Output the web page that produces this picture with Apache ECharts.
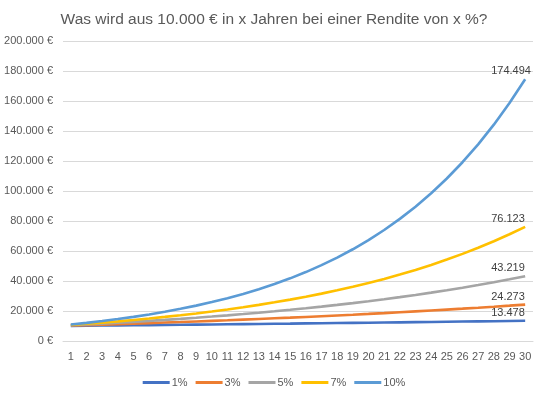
<!DOCTYPE html>
<html>
<head>
<meta charset="utf-8">
<script src="https://cdn.jsdelivr.net/npm/echarts@6/dist/echarts.min.js"></script>
<style>
  html, body { margin: 0; padding: 0; background: #fff; }
  #main { width: 548px; height: 397px; }
</style>
</head>
<body>
<div id="main"></div>
<script>
// Jahre
var years = [];
for (var i = 1; i <= 30; i++) years.push(String(i));

// Werte je Rendite (Endkapital nach n Jahren)
var r1 = [10100, 10201, 10303, 10406, 10510, 10615, 10721, 10829, 10937, 11046,
          11157, 11268, 11381, 11495, 11610, 11726, 11843, 11961, 12081, 12202,
          12324, 12447, 12572, 12697, 12824, 12953, 13082, 13213, 13345, 13478];
var r3 = [10300, 10609, 10927, 11255, 11593, 11941, 12299, 12668, 13048, 13439,
          13842, 14258, 14685, 15126, 15580, 16047, 16528, 17024, 17535, 18061,
          18603, 19161, 19736, 20328, 20938, 21566, 22213, 22879, 23566, 24273];
var r5 = [10500, 11025, 11576, 12155, 12763, 13401, 14071, 14775, 15513, 16289,
          17103, 17959, 18856, 19799, 20789, 21829, 22920, 24066, 25270, 26533,
          27860, 29253, 30715, 32251, 33864, 35557, 37335, 39201, 41161, 43219];
var r7 = [10700, 11449, 12250, 13108, 14026, 15007, 16058, 17182, 18385, 19672,
          21049, 22522, 24098, 25785, 27590, 29522, 31588, 33799, 36165, 38697,
          41406, 44304, 47405, 50724, 54274, 58074, 62139, 66488, 71143, 76123];
var r10 = [11000, 12100, 13310, 14641, 16105, 17716, 19487, 21436, 23579, 25937,
           28531, 31384, 34523, 37975, 41772, 45950, 50545, 55599, 61159, 67275,
           74002, 81403, 89543, 98497, 108347, 119182, 131100, 144210, 158631, 174494];

var names = ['1%', '3%', '5%', '7%', '10%'];
var colors = ['#4472C4', '#ED7D31', '#A5A5A5', '#FFC000', '#5B9BD5'];
var allData = [r1, r3, r5, r7, r10];

function fmt(v) {
    return String(Math.round(v)).replace(/\B(?=(\d{3})+(?!\d))/g, '.');
}

var font = 'Liberation Sans, Arial, sans-serif';

var series = allData.map(function (d, k) {
    return {
        name: names[k],
        type: 'line',
        data: d,
        symbol: 'none',
        showSymbol: false,
        lineStyle: { width: 2.6, color: colors[k] },
        itemStyle: { color: colors[k] },
        endLabel: {
            show: true,
            formatter: function (p) { return fmt(p.value); },
            color: '#404040',
            fontSize: 11,
            fontFamily: font,
            offset: [-42, -8]
        },
        z: k + 2
    };
});

var myChart = echarts.init(document.getElementById('main'));
var option = {
    animation: false,
    title: {
        text: 'Was wird aus 10.000 € in x Jahren bei einer Rendite von x %?',
        left: 'center',
        top: 7,
        textStyle: { color: '#595959', fontSize: 15.5, fontWeight: 'normal', fontFamily: font }
    },
    legend: {
        data: names,
        bottom: 4,
        left: 'center',
        icon: 'rect',
        itemWidth: 27,
        itemHeight: 3,
        itemGap: 8,
        textStyle: { color: '#595959', fontSize: 11, fontFamily: font, padding: [0, 0, 0, -3] }
    },
    grid: { left: 63, right: 15, top: 41, bottom: 56, containLabel: false },
    xAxis: {
        type: 'category',
        data: years,
        boundaryGap: true,
        axisLine: { lineStyle: { color: '#d9d9d9' } },
        axisTick: { show: false },
        axisLabel: { color: '#595959', fontSize: 11, fontFamily: font, interval: 0, margin: 10 }
    },
    yAxis: {
        type: 'value',
        min: 0,
        max: 200000,
        interval: 20000,
        axisLine: { show: false },
        axisTick: { show: false },
        splitLine: { lineStyle: { color: '#d9d9d9' } },
        axisLabel: {
            color: '#595959', fontSize: 11, fontFamily: font, margin: 10,
            formatter: function (v) { return fmt(v) + ' €'; }
        }
    },
    series: series
};
myChart.setOption(option);
</script>
</body>
</html>
